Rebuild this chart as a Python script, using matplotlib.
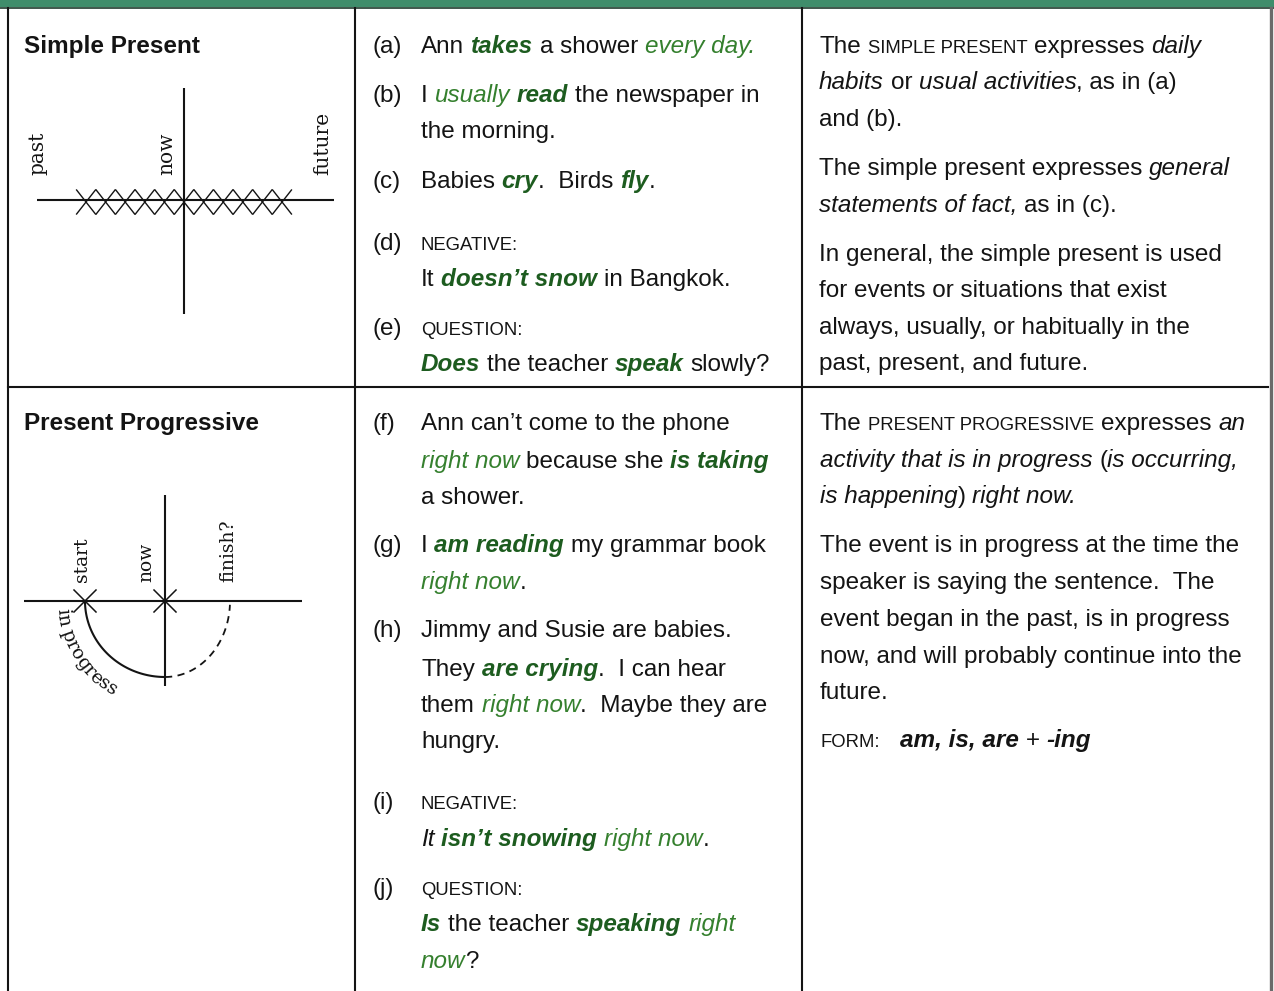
import matplotlib
matplotlib.use('Agg')
import matplotlib.pyplot as plt
import numpy as np
from matplotlib.patches import Rectangle

# ---- content -------------------------------------------------------------
# style keys: n normal, i italic, sc small caps, gi green italic,
#             gb green bold italic, bi bold italic
HEADINGS = ['Simple Present', 'Present Progressive']

EXAMPLES_1 = [
    ('(a)', [[('Ann ', 'n'), ('takes', 'gb'), (' a shower ', 'n'), ('every day.', 'gi')]]),
    ('(b)', [[('I ', 'n'), ('usually', 'gi'), (' read', 'gb'), (' the newspaper in', 'n')],
             [('the morning.', 'n')]]),
    ('(c)', [[('Babies ', 'n'), ('cry', 'gb'), ('.  Birds ', 'n'), ('fly', 'gb'), ('.', 'n')]]),
    ('(d)', [[('NEGATIVE:', 'sc')],
             [('It ', 'n'), ('doesn\u2019t snow', 'gb'), (' in Bangkok.', 'n')]]),
    ('(e)', [[('QUESTION:', 'sc')],
             [('Does', 'gb'), (' the teacher ', 'n'), ('speak', 'gb'), (' slowly?', 'n')]]),
]

EXAMPLES_2 = [
    ('(f)', [[('Ann can\u2019t come to the phone', 'n')],
             [('right now', 'gi'), (' because she ', 'n'), ('is taking', 'gb')],
             [('a shower.', 'n')]]),
    ('(g)', [[('I ', 'n'), ('am reading', 'gb'), (' my grammar book', 'n')],
             [('right now', 'gi'), ('.', 'n')]]),
    ('(h)', [[('Jimmy and Susie are babies.', 'n')],
             [('They ', 'n'), ('are crying', 'gb'), ('.  I can hear', 'n')],
             [('them ', 'n'), ('right now', 'gi'), ('.  Maybe they are', 'n')],
             [('hungry.', 'n')]]),
    ('(i)', [[('NEGATIVE:', 'sc')],
             [('It ', 'i'), ('isn\u2019t snowing', 'gb'), (' right now', 'gi'), ('.', 'n')]]),
    ('(j)', [[('QUESTION:', 'sc')],
             [('Is', 'gb'), (' the teacher ', 'n'), ('speaking', 'gb'), (' right', 'gi')],
             [('now', 'gi'), ('?', 'n')]]),
]

NOTES_1 = [
    [('The ', 'n'), ('SIMPLE PRESENT', 'sc'), (' expresses ', 'n'), ('daily', 'i')],
    [('habits', 'i'), (' or ', 'n'), ('usual activities', 'i'), (', as in (a)', 'n')],
    [('and (b).', 'n')],
    [('The simple present expresses ', 'n'), ('general', 'i')],
    [('statements of fact,', 'i'), (' as in (c).', 'n')],
    [('In general, the simple present is used', 'n')],
    [('for events or situations that exist', 'n')],
    [('always, usually, or habitually in the', 'n')],
    [('past, present, and future.', 'n')],
]

NOTES_2 = [
    [('The ', 'n'), ('PRESENT PROGRESSIVE', 'sc'), (' expresses ', 'n'), ('an', 'i')],
    [('activity that is in progress', 'i'), (' (', 'n'), ('is occurring,', 'i')],
    [('is happening', 'i'), (') ', 'n'), ('right now.', 'i')],
    [('The event is in progress at the time the', 'n')],
    [('speaker is saying the sentence.  The', 'n')],
    [('event began in the past, is in progress', 'n')],
    [('now, and will probably continue into the', 'n')],
    [('future.', 'n')],
    [('FORM:', 'sc'), ('  ', 'sc'), ('am, is, are', 'bi'), (' + ', 'n'), ('-ing', 'bi')],
]

# diagram 1: habitual events on a time line (now = 0)
HABIT_TIMES = [-5, -4, -3, -2, -1, 0, 1, 2, 3, 4, 5]
TL1_LABELS = [('past', -7.45), ('now', -0.9), ('future', 7.1)]

# diagram 2: activity in progress
START_T, NOW_T, FINISH_T = -4.0, 0.0, 3.25
TL2_LABELS = [('start', -4.15), ('now', -0.95), ('finish?', 3.15)]
ARC_LABEL = 'in progress'

# ---- layout --------------------------------------------------------------
W, H = 1274, 991
FS = 17.5
SANS = 'Liberation Sans'
SERIF = 'DejaVu Serif'
INK = '#141414'
GREEN_D = '#1d5c1f'
GREEN_L = '#35802e'

MID_BASE_1 = [53, 102, 138, 188, 250, 286, 335, 371]
MID_BASE_2 = [430, 468, 504, 552, 589, 637, 676, 712, 748, 809, 846, 895, 931, 968]
RIGHT_BASE_1 = [53, 89, 126, 175, 212, 261, 297, 334, 370]
RIGHT_BASE_2 = [430, 467, 503, 552, 589, 626, 663, 699, 747]

fig = plt.figure(figsize=(W / 100, H / 100), dpi=100)
ax = fig.add_axes([0, 0, 1, 1])
ax.set_xlim(0, W)
ax.set_ylim(H, 0)
ax.axis('off')
fig.canvas.draw()
renderer = fig.canvas.get_renderer()


def style_kw(st):
    kw = dict(family=SANS, size=FS, color=INK, style='normal', weight='normal')
    if st == 'sc':
        kw['size'] = FS * 0.76
    if st in ('i', 'gi', 'gb', 'bi'):
        kw['style'] = 'italic'
    if st in ('gb', 'bi'):
        kw['weight'] = 'bold'
    if st == 'gi':
        kw['color'] = GREEN_L
    if st == 'gb':
        kw['color'] = GREEN_D
    return kw


def text_w(s, kw):
    t = ax.text(0, 0, s, **kw)
    w = t.get_window_extent(renderer).width
    t.remove()
    return w


def draw_runs(x, y, runs):
    for s, st in runs:
        kw = style_kw(st)
        core = s.strip(' ')
        lead = len(s) - len(s.lstrip(' '))
        trail = len(s) - len(s.rstrip(' '))
        sp = text_w('n n', kw) - text_w('nn', kw)
        x += lead * sp
        if core:
            t = ax.text(x, y, core, va='baseline', ha='left', **kw)
            x += t.get_window_extent(renderer).width
        x += trail * sp


def draw_examples(examples, bases):
    i = 0
    for label, lines in examples:
        ax.text(372, bases[i], label, va='baseline', **style_kw('n'))
        for runs in lines:
            draw_runs(421, bases[i], runs)
            i += 1


# table frame
ax.add_patch(Rectangle((0, 0), W, 7, color='#3f8d6b', lw=0))
ax.plot([0, W], [8, 8], color='#1e3a2c', lw=1.2)
lw = 1.5
ax.plot([8, 8], [8, H], color=INK, lw=lw)
ax.plot([355, 355], [8, H], color=INK, lw=lw)
ax.plot([802, 802], [8, H], color=INK, lw=lw)
ax.plot([1271, 1271], [8, H], color='#6a6a6a', lw=2.4)
ax.plot([8, 1268], [386.5, 386.5], color=INK, lw=lw)

# headings
for head, y in zip(HEADINGS, [53, 430]):
    ax.text(24, y, head, va='baseline', family=SANS, weight='bold', size=FS, color=INK)

draw_examples(EXAMPLES_1, MID_BASE_1)
draw_examples(EXAMPLES_2, MID_BASE_2)
for runs, y in zip(NOTES_1, RIGHT_BASE_1):
    draw_runs(819, y, runs)
for runs, y in zip(NOTES_2, RIGHT_BASE_2):
    draw_runs(820, y, runs)


def inset(x0, y0, x1, y1):
    a = fig.add_axes([x0 / W, 1 - y1 / H, (x1 - x0) / W, (y1 - y0) / H])
    a.axis('off')
    return a


# ---- diagram 1: simple present ---------------------------------------
d1 = inset(37, 88, 334, 314)
d1.set_xlim(-7.5, 7.65)
d1.set_ylim(-114, 112)
d1.axhline(0, color=INK, lw=1.5)
d1.axvline(0, color=INK, lw=1.5)
for t in HABIT_TIMES:
    d1.plot([t - 0.48, t + 0.48], [10, -14], color=INK, lw=1.0, clip_on=False)
    d1.plot([t - 0.48, t + 0.48], [-14, 10], color=INK, lw=1.0, clip_on=False)
for lab, t in TL1_LABELS:
    d1.text(t, 25, lab, rotation=90, ha='center', va='bottom', family=SERIF,
            size=14.5, color=INK, clip_on=False)

# ---- diagram 2: present progressive ----------------------------------
d2 = inset(24, 495, 302, 686)
d2.set_xlim(-7.05, 6.85)
d2.set_ylim(-85, 106)
d2.axhline(0, color=INK, lw=1.5)
d2.axvline(0, color=INK, lw=1.5)
for t in (START_T, NOW_T):
    d2.plot([t - 0.55, t + 0.55], [11, -11], color=INK, lw=1.1, clip_on=False)
    d2.plot([t - 0.55, t + 0.55], [-11, 11], color=INK, lw=1.1, clip_on=False)
th = np.linspace(np.pi, 1.5 * np.pi, 80)
d2.plot(-START_T * np.cos(th), 76 * np.sin(th), color=INK, lw=1.5)
th2 = np.linspace(1.5 * np.pi, 2 * np.pi - 0.05, 80)
d2.plot(FINISH_T * np.cos(th2), 76 * np.sin(th2), color=INK, lw=1.3,
        ls=(0, (4, 3)))
for lab, t in TL2_LABELS:
    d2.text(t, 19, lab, rotation=90, ha='center', va='bottom', family=SERIF,
            size=13.5, color=INK, clip_on=False)

# curved label along the outside of the solid arc
th = np.linspace(np.radians(184), np.radians(300), 600)
pts = d2.transData.transform(np.c_[5.4 * np.cos(th), 108 * np.sin(th)])
seg = np.hypot(*np.diff(pts, axis=0).T)
arc = np.r_[0, np.cumsum(seg)]
ckw = dict(family=SERIF, size=13.5, color=INK)
sp = text_w('n n', ckw) - text_w('nn', ckw)
pos = 0.0
for ch in ARC_LABEL:
    w = sp * 0.8 if ch == ' ' else text_w(ch, ckw) + 0.2
    mid = pos + w / 2
    k = min(np.searchsorted(arc, mid), len(arc) - 2)
    p = pts[k]
    d = pts[k + 1] - pts[k]
    ang = np.degrees(np.arctan2(d[1], d[0]))
    if ch != ' ':
        xy = ax.transData.inverted().transform(p)
        ax.text(xy[0], xy[1], ch, rotation=ang, rotation_mode='anchor',
                ha='center', va='baseline', **ckw)
    pos += w

fig.savefig('out.png', dpi=100)
